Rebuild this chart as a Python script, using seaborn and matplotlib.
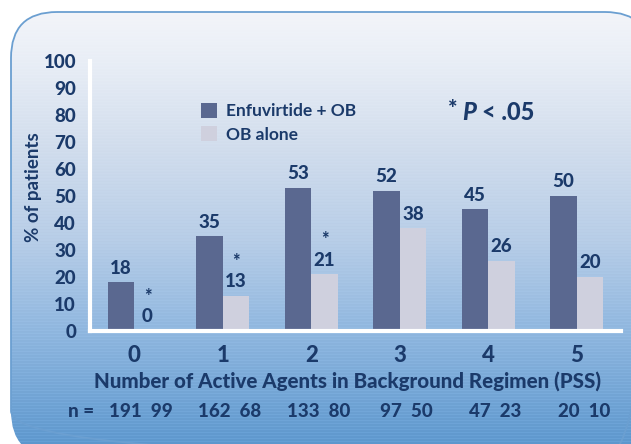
import os
import numpy as np
import pandas as pd
import matplotlib
matplotlib.use("Agg")
import matplotlib.pyplot as plt
from matplotlib.patches import FancyBboxPatch, Patch
from matplotlib import font_manager as fm
import seaborn as sns

# ---- data ----
categories = ["0", "1", "2", "3", "4", "5"]
enfuvirtide = [18, 35, 53, 52, 45, 50]
ob_alone = [0, 13, 21, 38, 26, 20]
significant = [True, True, True, False, False, False]
n_enf = [191, 162, 133, 97, 47, 20]
n_ob = [99, 68, 80, 50, 23, 10]
series_names = ["Enfuvirtide + OB", "OB alone"]
y_ticks = [0, 10, 20, 30, 40, 50, 60, 70, 80, 90, 100]

DARK = "#5a6890"
LIGHT = "#cfd0de"
TXT = "#1b3a6a"

# ---- pick static font files by name ----
_files = {os.path.basename(f.fname).lower(): f.fname for f in fm.fontManager.ttflist}


def _pick(names):
    for n in names:
        if n in _files:
            return _files[n]
    return None


HEAVY = _pick(["lato-heavy.ttf", "lato-black.ttf", "lato-bold.ttf", "notosans-bold.ttf",
               "dejavusans-bold.ttf"])
BOLD = _pick(["lato-bold.ttf", "notosans-bold.ttf", "dejavusans-bold.ttf"]) or HEAVY
HEAVYIT = _pick(["lato-heavyitalic.ttf", "lato-blackitalic.ttf", "lato-bolditalic.ttf",
                 "dejavusans-boldoblique.ttf"]) or HEAVY


def fp(size, path=None):
    path = path or HEAVY
    if path:
        return fm.FontProperties(fname=path, size=size)
    return fm.FontProperties(family="DejaVu Sans", weight="bold", size=size)


sns.set_theme(style="white")
plt.rcParams["font.family"] = ["Lato", "DejaVu Sans"]

W, H = 631, 444
fig = plt.figure(figsize=(W / 100, H / 100), dpi=100)
fig.patch.set_facecolor("white")

# ---- background rounded panel with gradient ----
bg = fig.add_axes([0, 0, 1, 1], zorder=0)
bg.set_xlim(0, W)
bg.set_ylim(H, 0)
bg.axis("off")
rows = np.arange(H)
stops_y = [0, 60, 150, 240, 330, 444]
stops_c = [np.array(matplotlib.colors.to_rgb(c)) for c in
           ["#f5f6fa", "#e9eef6", "#d0dcec", "#b6cce6", "#8fb6de", "#5d97cd"]]
grad = np.zeros((H, 1, 3))
for ch in range(3):
    grad[:, 0, ch] = np.interp(rows, stops_y, [c[ch] for c in stops_c])
stripe = np.where(rows % 3 == 0, 0.03, 0.0) * (rows / H)
grad[:, 0, :] = np.clip(grad[:, 0, :] + stripe[:, None], 0, 1)
img = np.repeat(grad, W, axis=1)
box = FancyBboxPatch((11, 12), 640, 445, boxstyle="round,pad=0,rounding_size=46",
                     facecolor="none", edgecolor="#6b9fd1", linewidth=1.3,
                     transform=bg.transData, zorder=3)
im = bg.imshow(img, extent=(0, W, H, 0), aspect="auto", zorder=1)
im.set_clip_path(box)
bg.add_patch(box)

# ---- bar chart ----
ax = fig.add_axes([90 / W, 1 - 331 / H, 531 / W, 270 / H], zorder=2)
ax.set_facecolor("none")
df = pd.DataFrame({
    "cat": categories * 2,
    "series": [series_names[0]] * len(categories) + [series_names[1]] * len(categories),
    "value": enfuvirtide + ob_alone,
})
sns.barplot(data=df, x="cat", y="value", hue="series", order=categories,
            hue_order=series_names, palette=[DARK, LIGHT], width=0.6,
            saturation=1, ax=ax, legend=False, edgecolor="none", linewidth=0)

ax.set_xlim(-0.5, len(categories) - 0.5)
ax.set_ylim(0, 100)
ax.set_yticks(y_ticks)
ax.set_yticklabels([str(t) for t in y_ticks])
for s in ["top", "right"]:
    ax.spines[s].set_visible(False)
for s in ["left", "bottom"]:
    ax.spines[s].set_color("white")
    ax.spines[s].set_linewidth(3)
    ax.spines[s].set_zorder(5)
ax.tick_params(axis="y", colors="white", length=5, width=2.5, direction="out",
               pad=5, labelcolor=TXT)
ax.tick_params(axis="x", which="major", length=0, pad=10, labelcolor=TXT)
ax.set_xticks(np.arange(0.5, len(categories) - 0.5 + 0.01, 1.0), minor=True)
ax.tick_params(axis="x", which="minor", colors="white", length=6, width=2.5, direction="out")
for lab in ax.get_yticklabels():
    lab.set_fontproperties(fp(13.5))
for lab in ax.get_xticklabels():
    lab.set_fontproperties(fp(16))
ax.set_xlabel("")
ax.set_ylabel("")
ax.grid(False)

# value labels
for i, cont in enumerate(ax.containers):
    vals = enfuvirtide if i == 0 else ob_alone
    for j, (bar, v) in enumerate(zip(cont, vals)):
        xc = bar.get_x() + bar.get_width() / 2
        ax.annotate(str(v), (xc, v), xytext=(0, 4), textcoords="offset points",
                    ha="center", va="bottom", fontproperties=fp(13.5),
                    color=TXT, annotation_clip=False)
        if i == 1 and significant[j]:
            ax.annotate("*", (xc, v), xytext=(0, 19), textcoords="offset points",
                        ha="center", va="bottom", fontproperties=fp(13),
                        color=TXT, annotation_clip=False)

# legend
handles = [Patch(facecolor=DARK, edgecolor="none"), Patch(facecolor=LIGHT, edgecolor="none")]
leg = fig.legend(handles, series_names, loc="upper left",
                 bbox_to_anchor=(194 / W, 1 - 96 / H), frameon=False,
                 prop=fp(12.5, BOLD), handlelength=0.95, handleheight=0.95,
                 handletextpad=0.5, labelspacing=0.4, borderaxespad=0)
for t in leg.get_texts():
    t.set_color(TXT)

# P-value note
fig.text(448 / W, 1 - 109 / H, "*", fontproperties=fp(16), color=TXT,
         ha="left", va="center")
fig.text(462 / W, 1 - 112 / H, "P", fontproperties=fp(17, HEAVYIT),
         color=TXT, ha="left", va="center")
fig.text(482 / W, 1 - 112 / H, "< .05", fontproperties=fp(17),
         color=TXT, ha="left", va="center")

# axis titles
fig.text(33 / W, 1 - 187 / H, "% of patients", rotation=90, fontproperties=fp(13.5, BOLD),
         color=TXT, ha="center", va="center")
fig.text(0.5 * (93 + 603) / W, 1 - 381 / H,
         "Number of Active Agents in Background Regimen (PSS)",
         fontproperties=fp(14.8), color=TXT, ha="center", va="center")

# n row
fig.text(81 / W, 1 - 411 / H, "n =", fontproperties=fp(13.5), color=TXT,
         ha="center", va="center")
for k in range(len(categories)):
    xpix = 90 + 88.5 * (k + 0.5) + 7
    fig.text(xpix / W, 1 - 411 / H, f"{n_enf[k]}  {n_ob[k]}", fontproperties=fp(13.5),
             color=TXT, ha="center", va="center")

fig.savefig("out.png", dpi=100)
